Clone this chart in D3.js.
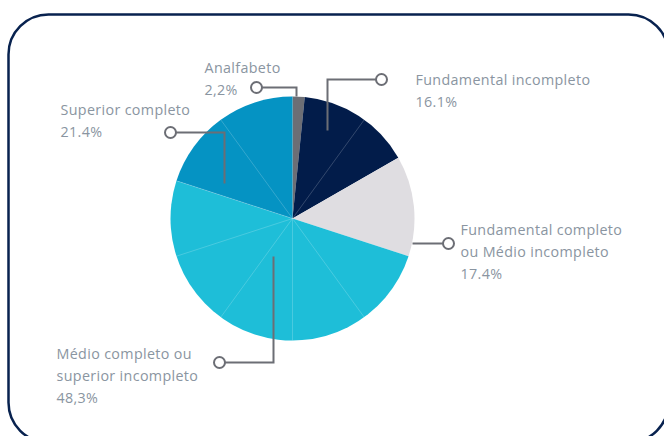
<!DOCTYPE html>
<html>
<head>
<meta charset="utf-8">
<script src="https://cdn.jsdelivr.net/npm/d3@7"></script>
<style>
  html, body { margin: 0; padding: 0; background: #fff; }
  #chart { width: 664px; height: 436px; }
  text { font-family: "Open Sans", sans-serif; fill: #8a95a1; letter-spacing: 0.35px; }
</style>
</head>
<body>
<div id="chart"></div>
<script>
// categories, printed labels and slice shares as drawn
const categories = [
  ['Analfabeto'],
  ['Fundamental incompleto'],
  ['Fundamental completo', 'ou Médio incompleto'],
  ['Médio completo ou', 'superior incompleto'],
  ['Superior completo']
];
const printedValues = ['2,2%', '16.1%', '17.4%', '48,3%', '21.4%'];
const sliceShares = [1.6, 15.1, 13.3, 50.0, 20.0];
const sliceColors = ['#6c6e75', '#021c4a', '#dfdde1', '#1ebed8', '#0593c3'];

// leader lines (offsets from pie centre) and label anchors
const leaders = [
  { pts: [[4, -122], [4, -131], [-36, -131]], text: [-88, -146] },
  { pts: [[35, -88], [35, -139], [89, -139]], text: [123, -134] },
  { pts: [[120, 25], [156, 25]], text: [168, 16] },
  { pts: [[-19, 38], [-19, 144], [-73, 144]], text: [-236, 140] },
  { pts: [[-68, -35], [-68, -86], [-122, -86]], text: [-232, -104] }
];

const width = 664, height = 436;
const cx = 292.5, cy = 218.5, radius = 122;

const svg = d3.select('#chart').append('svg')
  .attr('width', width)
  .attr('height', height);

// rounded frame
svg.append('rect')
  .attr('x', 8.5)
  .attr('y', 14.5)
  .attr('width', 660)
  .attr('height', 428)
  .attr('rx', 40)
  .attr('fill', 'none')
  .attr('stroke', '#08224f')
  .attr('stroke-width', 2.5);

const g = svg.append('g').attr('transform', `translate(${cx},${cy})`);

const pie = d3.pie().sort(null).value(d => d);
const arcs = pie(sliceShares);
const arc = d3.arc().innerRadius(0).outerRadius(radius);

g.selectAll('path.slice')
  .data(arcs)
  .join('path')
  .attr('class', 'slice')
  .attr('d', arc)
  .attr('fill', (d, i) => sliceColors[i]);

// faint seams of the 10-part grid, not over the light grey slice
const seams = d3.range(1, 10).map(i => i * 2 * Math.PI / 10)
  .filter(a => !(a > arcs[2].startAngle && a < arcs[2].endAngle + 0.01));
g.selectAll('line.seam')
  .data(seams)
  .join('line')
  .attr('class', 'seam')
  .attr('x1', 0).attr('y1', 0)
  .attr('x2', a => radius * Math.sin(a))
  .attr('y2', a => -radius * Math.cos(a))
  .attr('stroke', '#ffffff')
  .attr('stroke-opacity', 0.28)
  .attr('stroke-width', 0.7);

const line = d3.line();

leaders.forEach((l, i) => {
  g.append('path')
    .attr('d', line(l.pts))
    .attr('fill', 'none')
    .attr('stroke', '#6c6e75')
    .attr('stroke-width', 2);
  const end = l.pts[l.pts.length - 1];
  g.append('circle')
    .attr('cx', end[0])
    .attr('cy', end[1])
    .attr('r', 5.5)
    .attr('fill', '#fff')
    .attr('stroke', '#6c6e75')
    .attr('stroke-width', 2);

  const lines = categories[i].concat([printedValues[i]]);
  const t = g.append('text')
    .attr('x', l.text[0])
    .attr('y', l.text[1])
    .style('font-size', '14.3px');
  lines.forEach((s, k) => {
    t.append('tspan')
      .attr('x', l.text[0])
      .attr('dy', k === 0 ? 0 : 22)
      .text(s);
  });
});
</script>
</body>
</html>
